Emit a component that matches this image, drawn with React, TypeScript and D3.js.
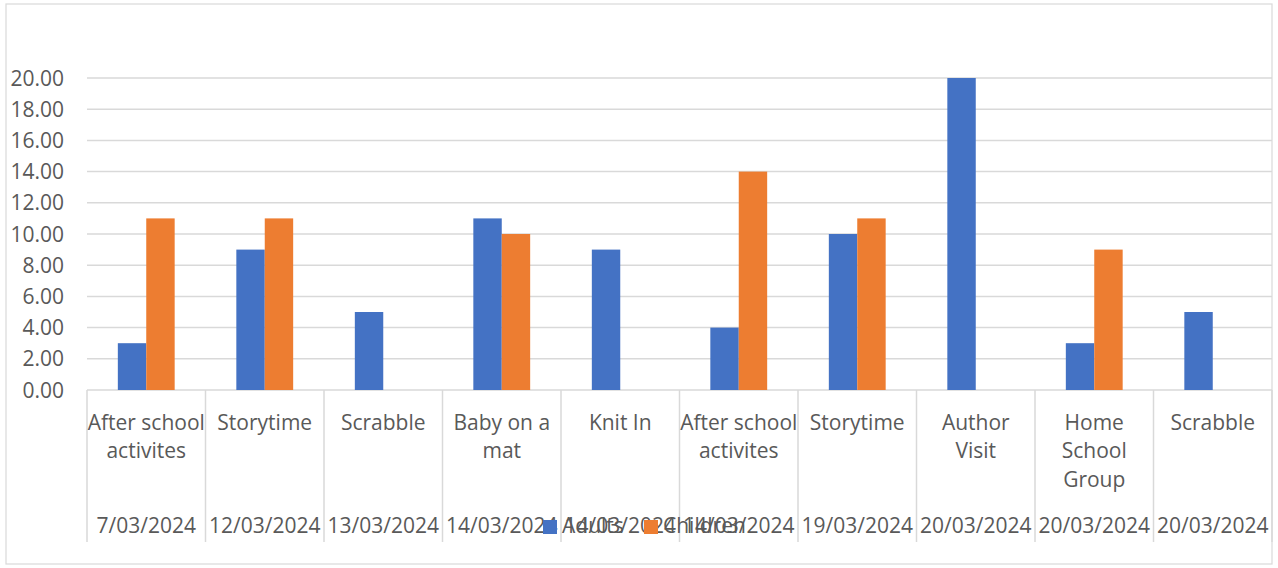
import React from "react";
import * as d3 from "d3";

// Event names (line breaks mark where each label wraps under its column)
const events = [
  "After school\nactivites",
  "Storytime",
  "Scrabble",
  "Baby on a\nmat",
  "Knit In",
  "After school\nactivites",
  "Storytime",
  "Author\nVisit",
  "Home\nSchool\nGroup",
  "Scrabble",
];

const dates = [
  "7/03/2024",
  "12/03/2024",
  "13/03/2024",
  "14/03/2024",
  "14/03/2024",
  "14/03/2024",
  "19/03/2024",
  "20/03/2024",
  "20/03/2024",
  "20/03/2024",
];

const adults = [3, 9, 5, 11, 9, 4, 10, 20, 3, 5];
const children = [11, 11, 0, 10, 0, 14, 11, 0, 9, 0];

const seriesNames = ["Adults", "Children"];
const seriesColors = ["#4472C4", "#ED7D31"];
const yTicks = [0, 2, 4, 6, 8, 10, 12, 14, 16, 18, 20];

const W = 1278;
const H = 568;
const FONT = "'Open Sans', sans-serif";
const TEXT = "#595959";
const GRID = "#d9d9d9";

export default function App() {
  const idx = events.map((_, i) => i);
  const x = d3.scaleBand<number>().domain(idx).range([87, 1272]).padding(0);
  const y = d3.scaleLinear().domain([0, 20]).range([390, 78]);
  const step = x.bandwidth();
  const barW = step / 4.17;
  const inner = d3
    .scaleBand<number>()
    .domain([0, 1])
    .range([step / 2 - barW, step / 2 + barW])
    .padding(0);
  const series = [adults, children];
  const axisBottom = 542;

  return (
    <svg
      width={W}
      height={H}
      style={{ position: "absolute", left: 0, top: 0, background: "#fff" }}
      fontFamily={FONT}
    >
      <rect x={6} y={4} width={1266} height={560} fill="#fff" stroke={GRID} strokeWidth={1.2} />

      {/* horizontal gridlines */}
      {yTicks.map((t) => (
        <line key={`g${t}`} x1={87} x2={1272} y1={y(t)} y2={y(t)} stroke={GRID} strokeWidth={1.5} />
      ))}

      {/* y tick labels */}
      {yTicks.map((t) => (
        <text key={`t${t}`} x={64} y={y(t) + 7.5} textAnchor="end" fontSize={21} fill={TEXT}>
          {d3.format(".2f")(t)}
        </text>
      ))}

      {/* category separators */}
      {[...idx.map((i) => x(i)!), 1272].map((px, i) => (
        <line key={`s${i}`} x1={px} x2={px} y1={y(0)} y2={axisBottom} stroke={GRID} strokeWidth={1.5} />
      ))}

      {/* bars */}
      {series.map((vals, s) =>
        vals.map((v, i) =>
          v > 0 ? (
            <rect
              key={`b${s}-${i}`}
              x={x(i)! + inner(s)!}
              y={y(v)}
              width={inner.bandwidth()}
              height={y(0) - y(v)}
              fill={seriesColors[s]}
            />
          ) : null
        )
      )}

      {/* event labels */}
      {events.map((label, i) => (
        <text key={`e${i}`} textAnchor="middle" fontSize={21} fill={TEXT}>
          {label.split("\n").map((ln, j) => (
            <tspan key={j} x={x(i)! + step / 2} y={429.5 + j * 28.7}>
              {ln}
            </tspan>
          ))}
        </text>
      ))}

      {/* date labels */}
      {dates.map((d, i) => (
        <text key={`d${i}`} x={x(i)! + step / 2} y={533} textAnchor="middle" fontSize={21} fill={TEXT}>
          {d}
        </text>
      ))}

      {/* legend */}
      {seriesNames.map((name, s) => {
        const lx = s === 0 ? 543 : 644;
        return (
          <g key={`l${s}`}>
            <rect x={lx} y={520} width={14} height={14} fill={seriesColors[s]} />
            <text x={lx + 19} y={533} fontSize={21} fill={TEXT}>
              {name}
            </text>
          </g>
        );
      })}
    </svg>
  );
}
